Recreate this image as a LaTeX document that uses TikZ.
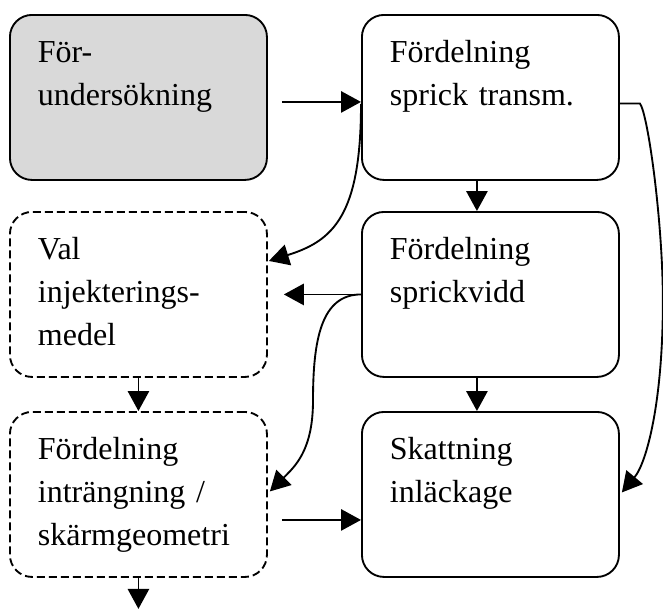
\documentclass[tikz,border=0pt]{standalone}
\usepackage{fontspec}
\setmainfont{Liberation Serif}
\usetikzlibrary{arrows.meta,calc}
\definecolor{fyllgra}{RGB}{217,217,217}
\newcommand{\radie}{16.5pt}
\newcommand{\kolA}{9}
\newcommand{\kolB}{361}

\tikzset{
  stepbox/.style={draw, line width=1.4pt, rounded corners=\radie, anchor=north west,
    align=left, text width=150.75pt, inner xsep=21pt, inner ysep=10pt,
    text height=25.8pt, text depth=77.95pt, font=\fontsize{24}{32}\selectfont},
  dashbox/.style={stepbox, dash pattern=on 6pt off 3pt},
  pil/.style={-{Triangle[length=15pt,width=16pt]}, line width=1.4pt},
}

\begin{document}
\begin{tikzpicture}[x=0.75pt,y=-0.75pt]
    \useasboundingbox (0,0) rectangle (663,608);

    % Boxes, left and right column
    \node[stepbox, fill=fyllgra] (forund) at (\kolA,14) {För-\\undersökning};
    \node[stepbox] (sprtr) at (\kolB,14) {Fördelning\\sprick transm.};
    \node[dashbox] (valinj) at (\kolA,211) {Val\\injekterings-\\medel};
    \node[stepbox] (sprvidd) at (\kolB,211) {Fördelning\\sprickvidd};
    \node[dashbox] (intrang) at (\kolA,411) {Fördelning\\inträngning /\\skärmgeometri};
    \node[stepbox] (skattn) at (\kolB,411) {Skattning\\inläckage};
    \coordinate (nedre) at ($(intrang.south)+(0,31)$);

    % Straight arrows
    \draw[pil] ($(forund.east)+(14,4.5)$) -- ($(sprtr.west)+(0,4.5)$);
    \draw[pil] ($(sprtr.south)+(-13.5,0)$) -- ($(sprvidd.north)+(-13.5,0)$);
    \draw[pil] ($(sprvidd.south)+(-13.5,0)$) -- ($(skattn.north)+(-13.5,0)$);
    \draw[pil] (valinj.south) -- (intrang.north);
    \draw[pil] (intrang.south) -- (nedre);
    \draw[pil] ($(intrang.east)+(14,25.5)$) -- ($(skattn.west)+(0,25.5)$);
    \draw[pil] (sprvidd.west) -- ($(valinj.east)+(16,0)$);

    % Curved arrows
    \draw[pil] ($(sprtr.west)+(0,6.5)$) .. controls +(0,112) and +(64,-20) .. ($(valinj.east)+(1,-33.5)$);
    \draw[pil] (sprvidd.west) .. controls +(-40,0) and +(0,-60) .. ($(sprvidd.west)+(-48,106)$)
        .. controls +(0,50) and +(25,-25) .. ($(intrang.east)+(2,-3)$);
    \draw[pil] ($(sprtr.east)+(0,6)$) -- ++(20,0) .. controls +(8,10) and +(0,-80) .. ($(sprtr.east)+(43,204)$)
        .. controls +(0,100) and +(25,-30) .. ($(skattn.east)+(2,-2)$);
\end{tikzpicture}
\end{document}
